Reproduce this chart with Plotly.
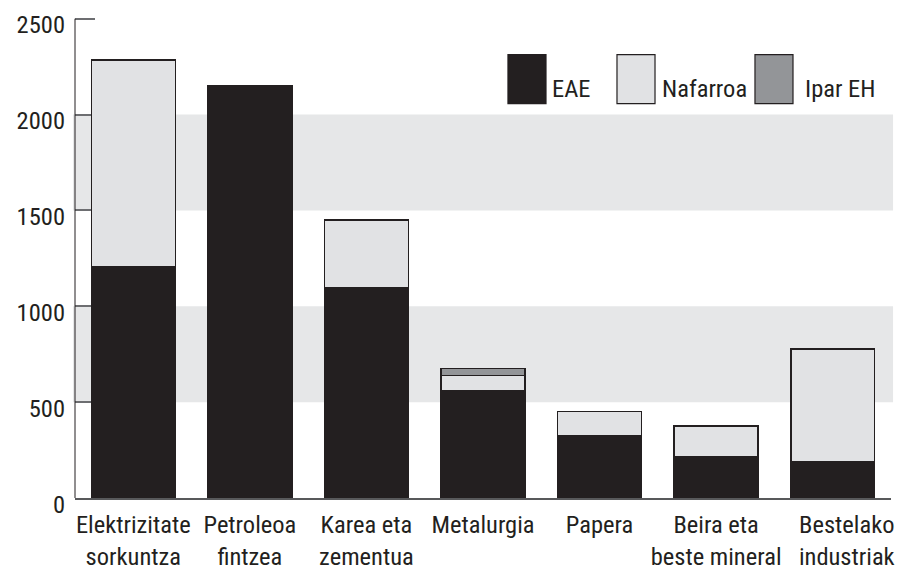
import plotly.graph_objects as go

# Sector categories (two-line labels) and emissions per territory
categories = ["Elektrizitate<br>sorkuntza", "Petroleoa<br>fintzea", "Karea eta<br>zementua",
              "Metalurgia", "Papera", "Beira eta<br>beste mineral", "Bestelako<br>industriak"]
eae = [1205, 2150, 1095, 560, 325, 215, 190]
nafarroa = [1080, None, 355, 80, 125, 160, 588]
ipar_eh = [None, None, None, 35, None, None, None]
y_ticks = [0, 500, 1000, 1500, 2000, 2500]
y_max = 2500

series_names = ["EAE", "Nafarroa", "Ipar EH"]
colors = ["#231f20", "#e1e2e4", "#939598"]
ink = "#231f20"
FONT = "Roboto Condensed, Liberation Sans Narrow, sans-serif"
FS = 24.5

x_idx = list(range(len(categories)))
# pad the last label so it sits a bit to the right of its bar
ticktext = categories[:-1] + ["\u00a0" * 5 + "Bestelako<br>" + "\u00a0" * 5 + "industriak"]

fig = go.Figure()
for name, vals, col in zip(series_names, [eae, nafarroa, ipar_eh], colors):
    fig.add_trace(go.Bar(
        x=x_idx, y=vals, name=name, width=0.72,
        marker=dict(color=col, line=dict(color=ink, width=1.5)),
        showlegend=False,
    ))

# alternating grey bands behind the bars
shapes = []
for lo, hi in [(500, 1000), (1500, 2000)]:
    shapes.append(dict(type="rect", xref="paper", yref="y", x0=-0.0025, x1=1.0025,
                       y0=lo, y1=hi, fillcolor="#e6e7e8", line=dict(width=0), layer="below"))

# vertical axis line, stopping at the top tick
shapes.append(dict(type="line", xref="paper", yref="y", x0=0, x1=0, y0=0, y1=y_max,
                   line=dict(color=ink, width=1)))

# legend swatches and labels
legend_boxes = [(0.5306, 0.5772), (0.6642, 0.7108), (0.8333, 0.8799)]
legend_text_x = [0.5821, 0.7169, 0.8922]
annotations = []
for (x0, x1), tx, name, col in zip(legend_boxes, legend_text_x, series_names, colors):
    shapes.append(dict(type="rect", xref="paper", yref="paper", x0=x0, x1=x1,
                       y0=0.8130, y1=0.9140, fillcolor=col,
                       line=dict(color=ink if name != "EAE" else col, width=1.2)))
    annotations.append(dict(xref="paper", yref="paper", x=tx, y=0.845, text=name,
                            showarrow=False, xanchor="left", yanchor="middle",
                            font=dict(family=FONT, size=FS, color=ink)))

fig.update_layout(
    width=901, height=570,
    margin=dict(l=75, r=10, t=13.25, b=72),
    paper_bgcolor="white", plot_bgcolor="white",
    barmode="stack", bargap=0.28,
    font=dict(family=FONT, size=FS, color=ink),
    shapes=shapes, annotations=annotations,
    xaxis=dict(
        range=[-0.5, len(categories) - 0.5],
        tickmode="array", tickvals=x_idx, ticktext=ticktext, tickangle=0,
        tickfont=dict(family=FONT, size=FS, color=ink),
        tickson="boundaries", ticks="inside", ticklen=11, tickcolor="#58595b", tickwidth=1.5,
        showline=True, linecolor="#58595b", linewidth=1.5,
        showgrid=False, zeroline=False, ticklabelstandoff=4,
        automargin=False, layer="below traces",
    ),
    yaxis=dict(
        range=[0, 2530], tickmode="array", tickvals=y_ticks,
        tickfont=dict(family=FONT, size=FS, color=ink),
        ticks="inside", ticklen=20, tickcolor="#6d6e71", tickwidth=1.5,
        showline=False,
        showgrid=False, zeroline=False,
        ticklabelstandoff=9, ticklabelshift=6,
        automargin=False, layer="below traces",
    ),
)

fig.write_html("out.html")
